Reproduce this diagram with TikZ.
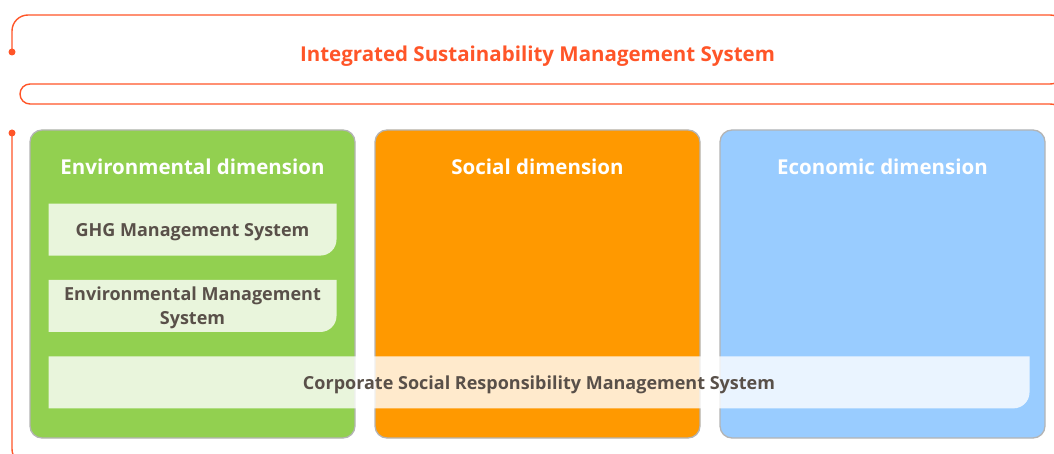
\documentclass[tikz,border=0pt]{standalone}
\usepackage{fontspec}
\setmainfont{Open Sans}
\usetikzlibrary{positioning}

\definecolor{ringred}{RGB}{255,85,40}
\definecolor{envgreen}{RGB}{146,208,80}
\definecolor{socorange}{RGB}{255,153,0}
\definecolor{ecoblue}{RGB}{153,204,255}
\definecolor{rimgray}{RGB}{180,180,180}
\definecolor{tabtext}{RGB}{89,80,73}

\begin{document}
\begin{tikzpicture}[x=1pt,y=1pt,
    ring/.style={draw=ringred, line width=1.4pt},
    pin/.style={circle, fill=ringred, inner sep=0pt, minimum size=7pt},
    dimbox/.style={draw=rimgray, line width=1.3pt, rounded corners=12pt,
        minimum width=325pt, minimum height=308pt, inner sep=0pt},
    dimtitle/.style={text=white, font=\fontsize{20.5}{22}\selectfont\bfseries},
    tab/.style={minimum width=288pt, minimum height=52pt, inner sep=0pt, text depth=-4pt,
        align=center, text=tabtext, font=\fontsize{18}{24}\selectfont\bfseries,
        path picture={\fill[white, fill opacity=0.8]
            (path picture bounding box.north west) -- (path picture bounding box.north east)
            [rounded corners=16pt] -- (path picture bounding box.south east)
            [sharp corners] -- (path picture bounding box.south west) -- cycle;}}]
    \useasboundingbox (0,0) rectangle (1054,453);
    \clip (0,0) rectangle (1054,453);

    % the three dimensions
    \node[dimbox, fill=envgreen] (env) at (192.5,169) {};
    \node[dimbox, fill=socorange] (soc) at (537.5,169) {};
    \node[dimbox, fill=ecoblue] (eco) at (882.5,169) {};
    \node[dimtitle] (envT) at ([yshift=-37pt]env.north) {Environmental dimension};
    \node[dimtitle] (socT) at ([yshift=-37pt]soc.north) {Social dimension};
    \node[dimtitle] (ecoT) at ([yshift=-37pt]eco.north) {Economic dimension};

    % management systems
    \node[tab, below=74pt of env.north] (ghg) {GHG Management System};
    \node[tab, below=24pt of ghg] (ems) {Environmental Management\\System};
    \node[tab, minimum width=981pt, below=24pt of ems.south west, anchor=north west] (csr)
        {Corporate Social Responsibility Management System};

    % integrated frame
    \node[text=ringred, font=\fontsize{20.5}{22}\selectfont\bfseries] (title) at (537.5,397)
        {Integrated Sustainability Management System};
    \node[pin] (upper) at (12,401) {};
    \node[pin] (lower) at (12,320) {};
    \draw[ring, rounded corners=16pt] (upper.center) |- (1066,438) |- (30,369);
    \draw[ring] (30,369) arc[start angle=90, end angle=270, radius=10];
    \draw[ring, rounded corners=16pt] (30,349) -| (1066,-12) -| (lower.center);
\end{tikzpicture}
\end{document}
